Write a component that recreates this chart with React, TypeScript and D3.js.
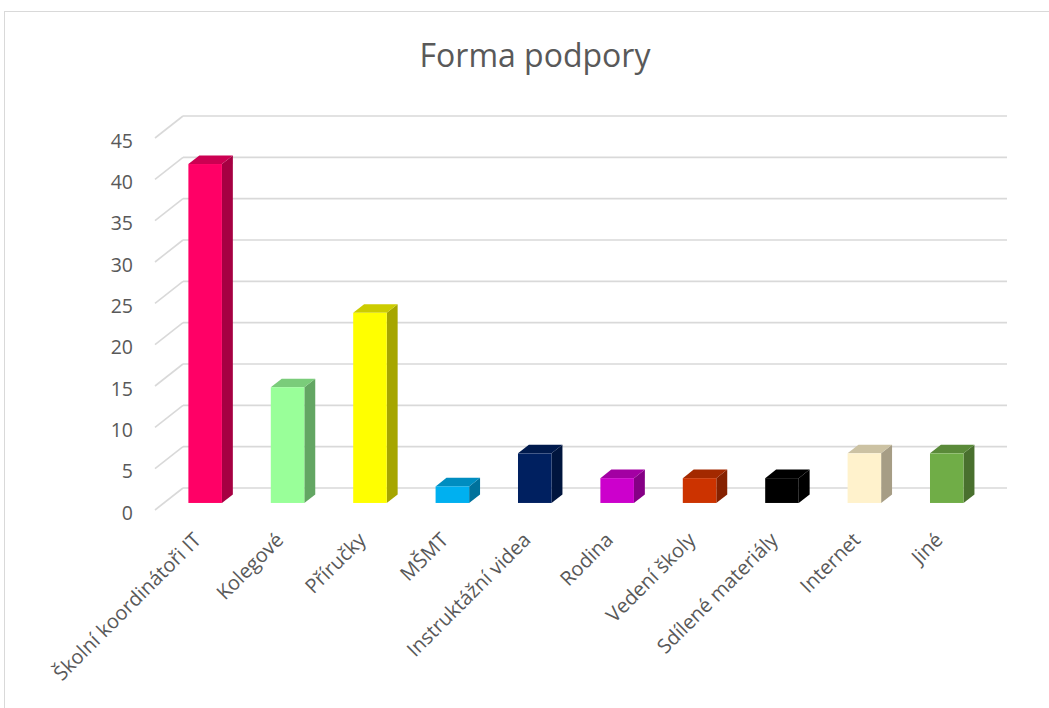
import React from "react";
import * as d3 from "d3";

const categories = [
  "Školní koordinátoři IT",
  "Kolegové",
  "Příručky",
  "MŠMT",
  "Instruktážní videa",
  "Rodina",
  "Vedení školy",
  "Sdílené materiály",
  "Internet",
  "Jiné",
];
const values = [41, 14, 23, 2, 6, 3, 3, 3, 6, 6];
const colors = [
  "#FF0066",
  "#99FF99",
  "#FFFF00",
  "#00B0F0",
  "#002060",
  "#CC00CC",
  "#CC3300",
  "#000000",
  "#FFF2CC",
  "#70AD47",
];
const yTicks = [0, 5, 10, 15, 20, 25, 30, 35, 40, 45];

const W = 1049;
const H = 708;
const FONT = "'Open Sans', 'Noto Sans', sans-serif";
const TEXT = "#595959";
const GRID = "#d9d9d9";

// back wall
const x0 = 183;
const x1 = 1007;
const y = d3.scaleLinear().domain([0, 45]).range([488, 116]);
const x = d3
  .scaleBand<string>()
  .domain(categories)
  .range([x0, x1])
  .paddingInner(0.593)
  .paddingOuter(0.2965);

// depth vector from back wall to front plane
const DX = -28;
const DY = 22;
const fFront = 0.68;
const fBack = 0.29;

function shade(c: string, k: number) {
  const col = d3.rgb(c);
  return d3.rgb(col.r * k, col.g * k, col.b * k).formatHex();
}

export default function App() {
  const bw = x.bandwidth();
  const fx = DX * fFront;
  const fy = DY * fFront;
  const bx = DX * fBack;
  const by = DY * fBack;
  const sx = bx - fx;
  const sy = by - fy;

  return (
    <svg
      width={W}
      height={H}
      style={{ position: "absolute", left: 0, top: 0, display: "block" }}
    >
      <rect x={0} y={0} width={W} height={H} fill="#ffffff" />
      <rect
        x={4.5}
        y={11.5}
        width={W + 20}
        height={H + 20}
        fill="none"
        stroke={GRID}
        strokeWidth={1}
      />
      <text
        x={535}
        y={67}
        textAnchor="middle"
        fontFamily={FONT}
        fontSize={32}
        fill={TEXT}
      >
        Forma podpory
      </text>

      {yTicks.map((t) => (
        <g key={t}>
          <line
            x1={x0}
            x2={x1}
            y1={y(t)}
            y2={y(t)}
            stroke={GRID}
            strokeWidth={1.6}
          />
          <line
            x1={x0 + DX}
            y1={y(t) + DY}
            x2={x0}
            y2={y(t)}
            stroke={GRID}
            strokeWidth={1.6}
          />
          <text
            x={133}
            y={y(t) + DY + 2}
            textAnchor="end"
            dominantBaseline="central"
            fontFamily={FONT}
            fontSize={19.5}
            fill={TEXT}
          >
            {t}
          </text>
        </g>
      ))}

      {categories.map((c, i) => {
        const v = values[i];
        const left = (x(c) as number) + fx;
        const right = left + bw;
        const top = y(v) + fy;
        const bottom = y(0) + fy;
        const col = colors[i];
        const sideCol = c === "Sdílené materiály" ? "#000000" : shade(col, 0.65);
        const topCol = c === "Sdílené materiály" ? "#000000" : shade(col, 0.8);
        const side = [
          [right, top],
          [right + sx, top + sy],
          [right + sx, bottom + sy],
          [right, bottom],
        ];
        const topFace = [
          [left, top],
          [left + sx, top + sy],
          [right + sx, top + sy],
          [right, top],
        ];
        const pts = (p: number[][]) => p.map((q) => q.join(",")).join(" ");
        return (
          <g key={c}>
            <polygon points={pts(side)} fill={sideCol} />
            <polygon points={pts(topFace)} fill={topCol} />
            <rect x={left} y={top} width={bw} height={bottom - top} fill={col} />
          </g>
        );
      })}

      {categories.map((c) => {
        const cx = (x(c) as number) + bw / 2 + DX;
        return (
          <text
            key={c}
            transform={`translate(${cx - 4},531) rotate(-45)`}
            textAnchor="end"
            dy="0.72em"
            fontFamily={FONT}
            fontSize={20}
            fill={TEXT}
          >
            {c}
          </text>
        );
      })}
    </svg>
  );
}
